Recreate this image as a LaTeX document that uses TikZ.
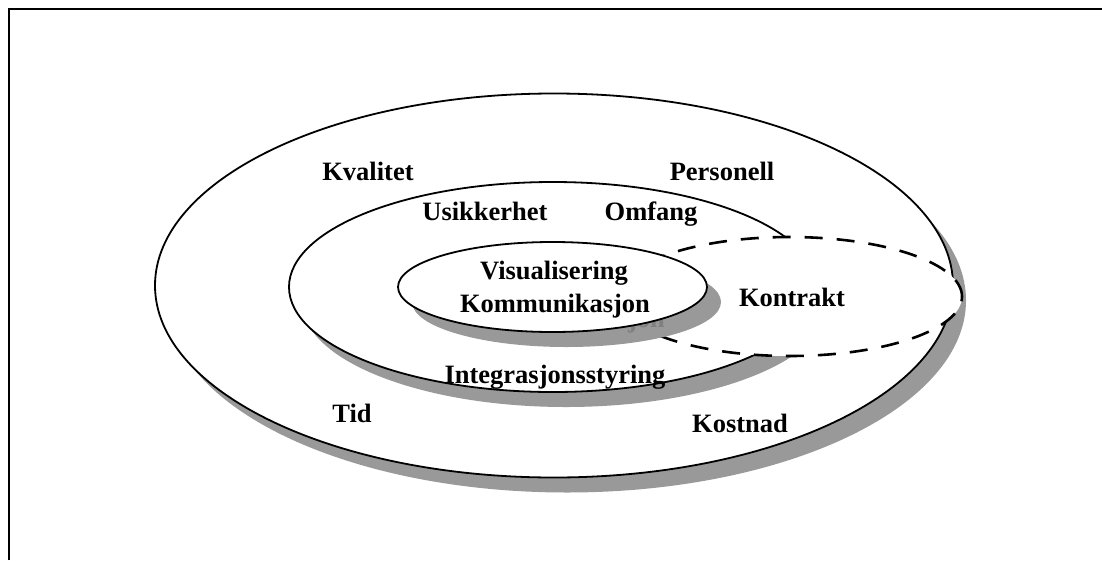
\documentclass[tikz,border=0pt]{standalone}
\usepackage{fontspec}
\setmainfont{Liberation Serif}
\definecolor{shadowgray}{HTML}{999999}
\definecolor{ghostgray}{HTML}{808080}
\tikzset{
  shadowfill/.style={fill=shadowgray, draw=none},
  ring/.style={fill=white, draw=black, line width=1.8pt},
  contractring/.style={fill=white, draw=black, line width=2.6pt, dash pattern=on 18pt off 14pt},
  lbl/.style={anchor=base, inner sep=0pt, font=\fontsize{26.5}{30}\selectfont\bfseries},
  frameline/.style={draw=black, line width=2pt}
}
\begin{document}
\begin{tikzpicture}[x=1pt,y=-1pt]
\useasboundingbox (0,0) rectangle (1102,560);
% frame (only top and left edges visible)
\draw[frameline] (9.3,560) -- (9.3,9.3) -- (1102,9.3);
% outer ring
\path[shadowfill] (567,300.5) ellipse [x radius=399pt, y radius=192pt];
\path[ring] (554,285.5) ellipse [x radius=399pt, y radius=192pt];
% middle ring
\path[shadowfill] (566,302) ellipse [x radius=264pt, y radius=105pt];
\path[ring] (553,287) ellipse [x radius=264pt, y radius=105pt];
% contract ring
\path[contractring] (789.5,296.5) ellipse [x radius=172.5pt, y radius=59.5pt];
% inner ring
\path[shadowfill] (566.5,302) ellipse [x radius=154.5pt, y radius=45pt];
\node[lbl, text=ghostgray] (ghost) at (570,327) {Kommunikasjon};
\path[ring] (552.5,287) ellipse [x radius=154.5pt, y radius=45pt];
% labels
\node[lbl] (kvalitet) at (368,180) {Kvalitet};
\node[lbl] (personell) at (722,180) {Personell};
\node[lbl] (usikkerhet) at (485,220) {Usikkerhet};
\node[lbl] (omfang) at (651,220) {Omfang};
\node[lbl] (visual) at (554,279) {Visualisering};
\node[lbl] (komm) at (555,312) {Kommunikasjon};
\node[lbl] (kontrakt) at (792,306) {Kontrakt};
\node[lbl] (integ) at (555,383) {Integrasjonsstyring};
\node[lbl] (tid) at (352,422) {Tid};
\node[lbl] (kostnad) at (740,432) {Kostnad};
\end{tikzpicture}
\end{document}
